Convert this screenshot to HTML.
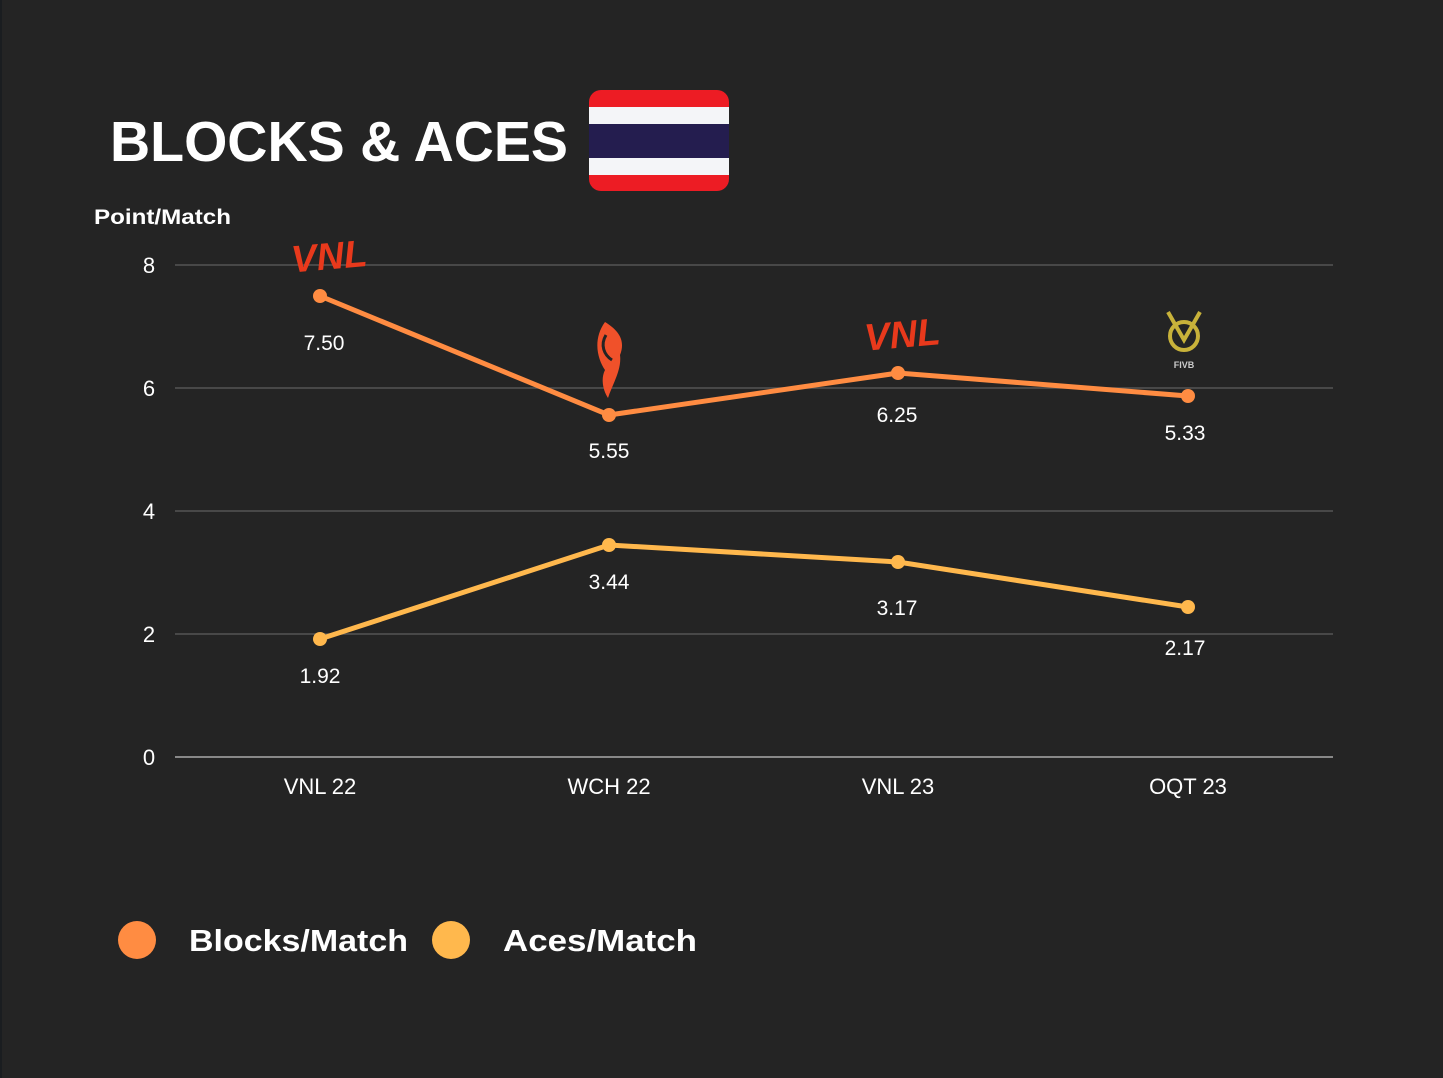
<!DOCTYPE html>
<html><head><style>
body{margin:0;background:#242424;}
svg{display:block;font-family:"Liberation Sans",sans-serif;}
</style></head><body>
<svg width="1443" height="1078" viewBox="0 0 1443 1078">
<rect width="1443" height="1078" fill="#242424"/>
<rect x="0" y="0" width="2" height="1078" fill="#1a1d20"/>
<text x="110" y="161" font-size="57" font-weight="bold" fill="#fff" textLength="458" lengthAdjust="spacingAndGlyphs">BLOCKS &amp; ACES</text>
<rect x="589" y="90" width="140" height="101" rx="12" fill="#ED1C24"/>
<rect x="589" y="107" width="140" height="68" fill="#F4F5F8"/>
<rect x="589" y="124" width="140" height="34" fill="#241D4F"/>
<text x="94" y="224" font-size="21" font-weight="bold" fill="#fff" textLength="137" lengthAdjust="spacingAndGlyphs">Point/Match</text>
<g stroke="#555" stroke-width="1.5">
<line x1="175" y1="265" x2="1333" y2="265"/>
<line x1="175" y1="388" x2="1333" y2="388"/>
<line x1="175" y1="511" x2="1333" y2="511"/>
<line x1="175" y1="634" x2="1333" y2="634"/>
</g>
<line x1="175" y1="757" x2="1333" y2="757" stroke="#888" stroke-width="2"/>
<g font-size="22" fill="#fff" text-anchor="middle">
<text x="149" y="273">8</text><text x="149" y="396">6</text><text x="149" y="519">4</text><text x="149" y="642">2</text><text x="149" y="765">0</text>
<text x="320" y="794">VNL 22</text><text x="609" y="794">WCH 22</text><text x="898" y="794">VNL 23</text><text x="1188" y="794">OQT 23</text>
</g>
<g font-family="Liberation Sans,sans-serif" font-size="38" font-weight="bold" fill="#E8391C" font-style="italic">
<text x="291" y="270" transform="rotate(-5 320 255)">VNL</text>
<text x="864" y="348" transform="rotate(-5 896 332)">VNL</text>
</g>
<path d="M605 322 C592 340 598 360 605 370 C600 380 604 392 608 398 C612 385 622 370 620 355 C626 340 618 330 605 322 Z" fill="#F0512A"/>
<path d="M606 335 C600 345 604 355 612 360" stroke="#242424" stroke-width="3" fill="none"/>
<g stroke="#C8B23A" stroke-width="4" fill="none">
<circle cx="1184" cy="336" r="14"/>
<path d="M1168 312 L1184 340 L1200 312"/>
</g>
<text x="1184" y="368" font-size="9" fill="#ccc" text-anchor="middle" font-weight="bold">FIVB</text>
<polyline points="320,296 609,415 898,373 1188,396" fill="none" stroke="#FF8C42" stroke-width="5"/>
<polyline points="320,639 609,545 898,562 1188,607" fill="none" stroke="#FFB84D" stroke-width="5"/>
<g fill="#FF8C42"><circle cx="320" cy="296" r="7"/><circle cx="609" cy="415" r="7"/><circle cx="898" cy="373" r="7"/><circle cx="1188" cy="396" r="7"/></g>
<g fill="#FFB84D"><circle cx="320" cy="639" r="7"/><circle cx="609" cy="545" r="7"/><circle cx="898" cy="562" r="7"/><circle cx="1188" cy="607" r="7"/></g>
<g font-size="21" fill="#fff" text-anchor="middle">
<text x="324" y="350">7.50</text><text x="609" y="458">5.55</text><text x="897" y="422">6.25</text><text x="1185" y="440">5.33</text>
<text x="320" y="683">1.92</text><text x="609" y="589">3.44</text><text x="897" y="615">3.17</text><text x="1185" y="655">2.17</text>
</g>
<circle cx="137" cy="940" r="19" fill="#FF8C42"/>
<circle cx="451" cy="940" r="19" fill="#FFB84D"/>
<g font-size="31" font-weight="bold" fill="#fff">
<text x="189" y="951" textLength="219" lengthAdjust="spacingAndGlyphs">Blocks/Match</text>
<text x="503" y="951" textLength="194" lengthAdjust="spacingAndGlyphs">Aces/Match</text>
</g>
</svg>
</body></html>
